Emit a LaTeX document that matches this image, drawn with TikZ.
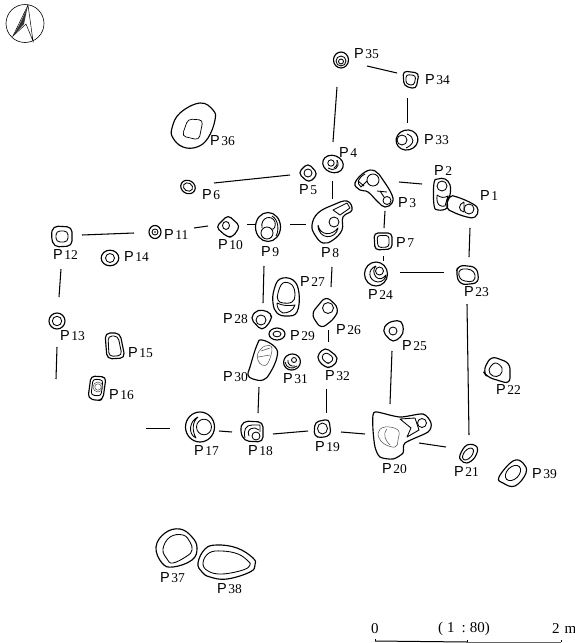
\documentclass[tikz,border=0pt]{standalone}
\usepackage{fontspec}
\setmainfont{Liberation Serif}
\newfontfamily\pfont{Liberation Sans}
\newcommand{\lab}[3]{\node[lbl] (L#1) at (#2,#3) {{\pfont\fontsize{14.5}{15}\selectfont P}\hspace{1.4pt}#1};}
\newcommand{\pitout}[1]{\draw[pit] plot[smooth cycle,tension=.7] coordinates {#1};}
\newcommand{\pitin}[1]{\draw[inpit] plot[smooth cycle,tension=.7] coordinates {#1};}
\newcommand{\dbl}[4]{\pitout{#4}\begin{scope}[shift={(#1,#2)},scale=#3,shift={(-#1,-#2)}]\pitin{#4}\end{scope}}
\tikzset{
  pit/.style={line width=1.15pt,line join=round},
  inpit/.style={line width=.85pt,line join=round},
  thinpit/.style={line width=.5pt,black!70},
  wall/.style={line width=1.05pt},
  lbl/.style={anchor=west,inner sep=0pt,font=\fontsize{13.5}{14}\selectfont}
}
\begin{document}
\begin{tikzpicture}[x=1pt,y=-1pt]
\useasboundingbox (0,0) rectangle (575,643);
% compass
\draw[line width=.6pt] (25,23.5) circle (19);
\fill[black!80] (28,5) .. controls (24,16) and (18,28) .. (13,36) -- (24,24) -- cycle;
\draw[line width=.5pt] (28,5) -- (13,36) -- (26,24) -- (33,41) -- cycle;
% wall lines
\foreach \a/\b/\c/\d in {367/66/397/73, 407.5/98/407.5/123, 337/87/333/142, 332.5/181/332.5/199,
  214/183/290/175, 399/182/422/184, 470/228/469/257, 385/211/384/228, 383.5/256/383.5/261,
  400/272.5/444/272.5, 290/224.5/306/224.5, 332/267/331/287, 82/235/134/233, 194/228/208/226,
  247/224.5/255/224.5, 264/266/263/303, 61/269/59/297, 57/347/56/379, 328.5/330/328.5/342,
  326.5/389/326.5/413, 341/432/365/434, 273/434/308/431, 219/431/232/432, 259/387/258/413,
  146/428.5/170/428.5, 392/351/390/404, 467/304/469/435, 419/443/446/447}
  \draw[wall] (\a,\b) -- (\c,\d);
% P36
\pitout{(200,103)(213,110)(215,120)(208,138)(197,147)(183,147)(173,138)(172,128)(180,113)}
\draw[inpit,line width=.7pt,rounded corners=4pt] (188,119) -- (203,120) -- (199,140) -- (182,136) -- cycle;
\lab{36}{210}{141}
% P6
\draw[pit] (188,187) ellipse [x radius=7.5,y radius=6.5,rotate=-30];
\draw[inpit] (188,187) ellipse [x radius=4.8,y radius=4,rotate=-30];
\lab{6}{202}{195}
% P35
\draw[pit] (341,60) ellipse [x radius=7.5,y radius=8];
\draw[inpit] (341,61) circle (5);
\draw[inpit] (341,61.5) circle (2.5);
\lab{35}{354}{54}
% P34
\draw[pit,rounded corners=4pt] (403,71) -- (419,73) -- (416,89) -- (404,86) -- cycle;
\draw[inpit,rounded corners=3pt] (406,74.5) -- (416,75.5) -- (414,85.5) -- (406,84) -- cycle;
\lab{34}{425}{80}
% P33
\draw[pit] (407,140) ellipse [x radius=11,y radius=10,rotate=15];
\draw[inpit] (402,140) circle (5);
\draw[inpit] (407,134) .. controls (415,137) and (415,144) .. (406,148);
\lab{33}{424}{140}
% P4
\draw[pit] (333,164) ellipse [x radius=10.5,y radius=8.5,rotate=-20];
\draw[inpit] (331,163) circle (3.2);
\draw[inpit] (328,168) .. controls (333,172) and (341,168) .. (337,160);
\draw[inpit] (334,168) .. controls (337,166) and (338,163) .. (337,160);
\lab{4}{339}{153}
% P5
\draw[pit,rounded corners=4.5pt] (298,173) -- (308,163) -- (318,174) -- (309,183) -- cycle;
\draw[inpit] (308,173) circle (4);
\lab{5}{299}{190}
% P3
\pitout{(355,183)(365,172)(375,171)(383,180)(392,195)(392,203)(385,207)(378,202)(368,192)(360,190)}
\draw[inpit] (373,180) circle (6);
\draw[inpit] (387,200.5) circle (4);
\draw[inpit] (365,174) .. controls (358,178) and (356,183) .. (361,187) -- (367,181);
\draw[inpit] (358,181) -- (364,186);
\draw[inpit] (377,191) -- (387,192);
\draw[inpit] (380,191) -- (384,197);
\lab{3}{398}{203}
% P2
\pitout{(434,183)(438,179)(445,179)(450,185)(450,195)(447,200)(447,208)(438,210)(434,205)}
\draw[inpit] (442,186) circle (5);
\draw[inpit] (437,195) .. controls (441,198) and (444,198) .. (448,196) -- (445,206) .. controls (441,207) and (436,206) .. (437,195);
\lab{2}{434}{171}
% P1
\pitout{(450,197)(457,197)(473,204)(478,210)(475,217)(467,217)(453,212)(447,207)}
\draw[inpit] (469,209) circle (5);
\draw[inpit] (464,202) -- (464,212) .. controls (458,211) and (458,204) .. (464,202);
\lab{1}{480}{196}
% P23
\draw[pit,rounded corners=6pt] (458,265) -- (477,267) -- (479,283) -- (460,285) -- (456,274) -- cycle;
\pitin{(459,272)(463,269)(471,270)(475,275)(473,281)(465,281)(460,278)}
\lab{23}{464}{292}
% P7
\draw[pit,rounded corners=4pt] (374,233) -- (392,233) -- (392,249) -- (375,250) -- cycle;
\draw[inpit,rounded corners=3pt] (377,235.5) -- (389,235.5) -- (389,247) -- (378,247.5) -- cycle;
\lab{7}{396}{243}
% P24
\draw[pit] (376,274) ellipse [x radius=11.5,y radius=12];
\draw[inpit] (379.5,271) circle (4);
\draw[inpit] (376,266) .. controls (367,269) and (368,281) .. (378,282) .. controls (383,282) and (386,278) .. (386,275) .. controls (383,279) and (379,280) .. (376,277) .. controls (373,273) and (373,269) .. (376,266);
\lab{24}{368}{295}
% P8
\pitout{(312,225)(318,213)(333,205)(347,201)(352,210)(343,217)(342,230)(333,240)(323,243)(315,235)}
\draw[inpit] (334,222) circle (5);
\draw[inpit] (318,225) .. controls (320,236) and (332,236) .. (338,228) .. controls (336,240) and (318,240) .. (318,225);
\draw[inpit] (333,210) -- (347,203) -- (350,208) -- (340,215) -- cycle;
\lab{8}{321}{253}
% P12
\draw[pit,rounded corners=5pt] (53,226) -- (72,227) -- (72,246) -- (54,247) -- (51,236) -- cycle;
\draw[inpit,rounded corners=4pt] (56,231) -- (68,231) -- (68,242) -- (56,242) -- cycle;
\lab{12}{53}{255}
% P11
\draw[pit] (155,232) ellipse [x radius=6,y radius=6.5];
\draw[inpit] (155,232) circle (3);
\fill (155,232) circle (.8);
\lab{11}{164}{235}
% P10
\draw[pit,rounded corners=4pt] (216,227) -- (228,215) -- (240,226) -- (233,237) -- (227,237) -- cycle;
\draw[inpit] (226,225.5) ellipse [x radius=3.5,y radius=4];
\lab{10}{218}{245}
% P9
\draw[pit] (268,227) ellipse [x radius=12.5,y radius=14.5];
\draw[inpit] (267,233) circle (6);
\draw[inpit] (262,228) .. controls (260,217) and (272,214) .. (275,222) .. controls (276,226) and (274,230) .. (272,229);
\draw[inpit] (272,216) .. controls (279,220) and (279,231) .. (276,236);
\lab{9}{261}{252}
% P14
\draw[pit] (110,258) ellipse [x radius=8.8,y radius=7.8];
\draw[inpit] (110,258) circle (4.5);
\lab{14}{124}{257}
% P13
\draw[pit] (57,321) circle (8);
\draw[inpit] (57,321) circle (4.7);
\lab{13}{60}{336}
% P15
\draw[pit,rounded corners=5pt] (105,333) -- (120,333) -- (125,358) -- (107,359) -- cycle;
\draw[inpit,rounded corners=4pt] (108,336) -- (118,336) -- (122,355.5) -- (109,356.5) -- cycle;
\lab{15}{128}{353}
% P16
\draw[pit,rounded corners=4pt] (91,376) -- (106,377) -- (103,399) -- (98,401) -- (88,398) -- cycle;
\draw[inpit,rounded corners=3pt] (93,379) -- (103,380) -- (101,396) -- (91,395) -- cycle;
\draw[thinpit] (98,387) circle (5);
\draw[thinpit] (98,387) circle (3.2);
\lab{16}{109}{395}
% P28
\draw[pit,rounded corners=5pt] (250,318) -- (258,309) -- (272,313) -- (271,321) -- (262,331) -- cycle;
\draw[inpit] (261,320) circle (5);
\lab{28}{223}{319}
% P27
\pitout{(274,290)(280,279)(293,280)(299,293)(297,312)(287,316)(277,313)(273,303)}
\pitin{(278,293)(283,283)(292,285)(295,295)(292,302)(283,303)(278,300)}
\draw[inpit] (277,303) .. controls (283,306) and (289,306) .. (295,305) .. controls (293,311) and (288,313) .. (283,313) .. controls (279,311) and (277,308) .. (277,303);
\lab{27}{300}{282}
% P26
\draw[pit,rounded corners=6pt] (311,314) -- (326,296) -- (339,308) -- (335,318) -- (321,329) -- cycle;
\draw[inpit] (328,308) circle (5.5);
\lab{26}{336}{330}
% P29
\draw[pit] (277,334) ellipse [x radius=8,y radius=6];
\draw[inpit] (277,334) ellipse [x radius=4,y radius=2.8];
\lab{29}{290}{336}
% P30
\pitout{(250,367)(257,345)(262,340)(275,347)(277,357)(270,373)(263,380)(253,379)(248,375)}
\draw[thinpit] plot[smooth cycle,tension=.7] coordinates {(258,353)(265,346)(272,348)(268,363)(262,365)(258,360)};
\draw[thinpit] (258,357) -- (270,355);
\draw[thinpit] (261,351) -- (270,348);
\lab{30}{223}{377}
% P31
\draw[pit] (292,362) ellipse [x radius=8.5,y radius=8,rotate=20];
\draw[inpit] (294,360) circle (2.5);
\draw[inpit] (285,362) .. controls (286,368) and (292,370) .. (297,366);
\draw[inpit] (288,360) .. controls (287,364) and (291,367) .. (295,366);
\lab{31}{283}{379}
% P32
\draw[pit,rounded corners=5pt] (316,357) -- (325,347) -- (339,358) -- (332,368) -- (324,367) -- cycle;
\draw[inpit,rounded corners=3pt] (321,357) -- (326,352) -- (334,358) -- (330,363.5) -- (326,363) -- cycle;
\lab{32}{325}{376}
% P19
\draw[pit,rounded corners=4pt] (315,422) -- (329,419) -- (331,435) -- (321,438) -- (314,436) -- cycle;
\draw[inpit] (322.5,428.5) ellipse [x radius=5,y radius=5.5];
\lab{19}{315}{447}
% P18
\draw[pit,rounded corners=5pt] (240,430) -- (243,421) -- (263,422) -- (263,442) -- (244,441) -- cycle;
\draw[inpit] (256,436) circle (4);
\draw[inpit] (245,438) .. controls (243,430) and (246,425) .. (252,425) -- (260,425) -- (260,432);
\draw[inpit] (249,436) .. controls (247,431) and (249,428) .. (255,428) -- (259,430);
\lab{18}{248}{451}
% P17
\draw[pit] (200,427) ellipse [x radius=14.5,y radius=15];
\draw[inpit] (204,427) ellipse [x radius=7.5,y radius=7.8];
\draw[inpit] (198,417) .. controls (190,420) and (187,434) .. (196,438) .. controls (192,431) and (192,422) .. (198,417);
\lab{17}{194}{451}
% P37
\pitout{(156,547)(165,533)(180,529)(192,537)(197,548)(192,560)(173,567)(162,563)}
\pitin{(163,549)(170,537)(183,535)(190,542)(192,550)(187,556)(173,563)(167,559)}
\lab{37}{160}{578}
% P38
\pitout{(198,563)(205,549)(217,545)(237,548)(253,558)(255,565)(250,572)(227,579)(210,577)(202,572)}
\pitin{(203,563)(209,553)(222,551)(238,554)(248,561)(250,565)(243,570)(222,574)(208,571)}
\lab{38}{217}{589}
% P25
\draw[pit,rounded corners=5pt] (382,331) -- (388,322) -- (402,320) -- (404,334) -- (393,343) -- cycle;
\draw[inpit] (393,331) circle (4);
\lab{25}{402}{346}
% P22
\draw[pit,rounded corners=6pt] (483,371) -- (491,356) -- (510,363) -- (510,384) -- (487,377) -- cycle;
\pitin{(489,370)(495,363)(502,368)(500,375)(493,376)}
\lab{22}{496}{390}
% P20
\draw[pit] plot[smooth cycle,tension=.45] coordinates {(373,415)(377,412)(400,417)(423,414)(431,423)(428,432)(405,443)(403,453)(393,459)(380,457)(375,447)(373,430)};
\draw[inpit] (422,423) circle (4.5);
\draw[inpit] (400,419) -- (415,418) -- (419,430) -- (407,437) -- (411,428) -- cycle;
\draw[thinpit] plot[smooth cycle,tension=.7] coordinates {(378,433)(385,427)(398,430)(398,440)(395,447)(383,443)};
\draw[thinpit] (387,429) .. controls (382,435) and (386,441) .. (390,445);
\lab{20}{382}{469}
% P21
\pitout{(460,455)(467,445)(477,447)(475,457)(467,463)(461,460)}
\draw[inpit] (468,454) ellipse [x radius=7,y radius=4,rotate=50];
\lab{21}{454}{472}
% P39
\pitout{(499,477)(513,461)(523,463)(526,473)(515,486)(503,483)}
\draw[inpit] (513,473) ellipse [x radius=9,y radius=6,rotate=45];
\lab{39}{532}{474}
% scale
\node[lbl,font=\fontsize{15}{16}\selectfont] (s0) at (371,629) {0};
\node[lbl,font=\fontsize{15}{16}\selectfont] (s1) at (438,629) {(\hspace{4pt}1\hspace{7pt}:\hspace{4pt}80)};
\node[lbl,font=\fontsize{15}{16}\selectfont] (s2) at (552,629) {2\hspace{5pt}m};
\coordinate (sa) at (375,641);
\coordinate (sb) at (467,642);
\coordinate (sc) at (561,642);
\draw[line width=1pt] (sa) -- (sb);
\draw[line width=.5pt,black!60] (sb) -- (sc);
\draw[line width=.7pt] (sa) -- ++(0,-2);
\draw[line width=.7pt] (sb) -- ++(0,-2);
\draw[line width=.7pt] (sc) -- ++(0,-2);
\end{tikzpicture}
\end{document}
